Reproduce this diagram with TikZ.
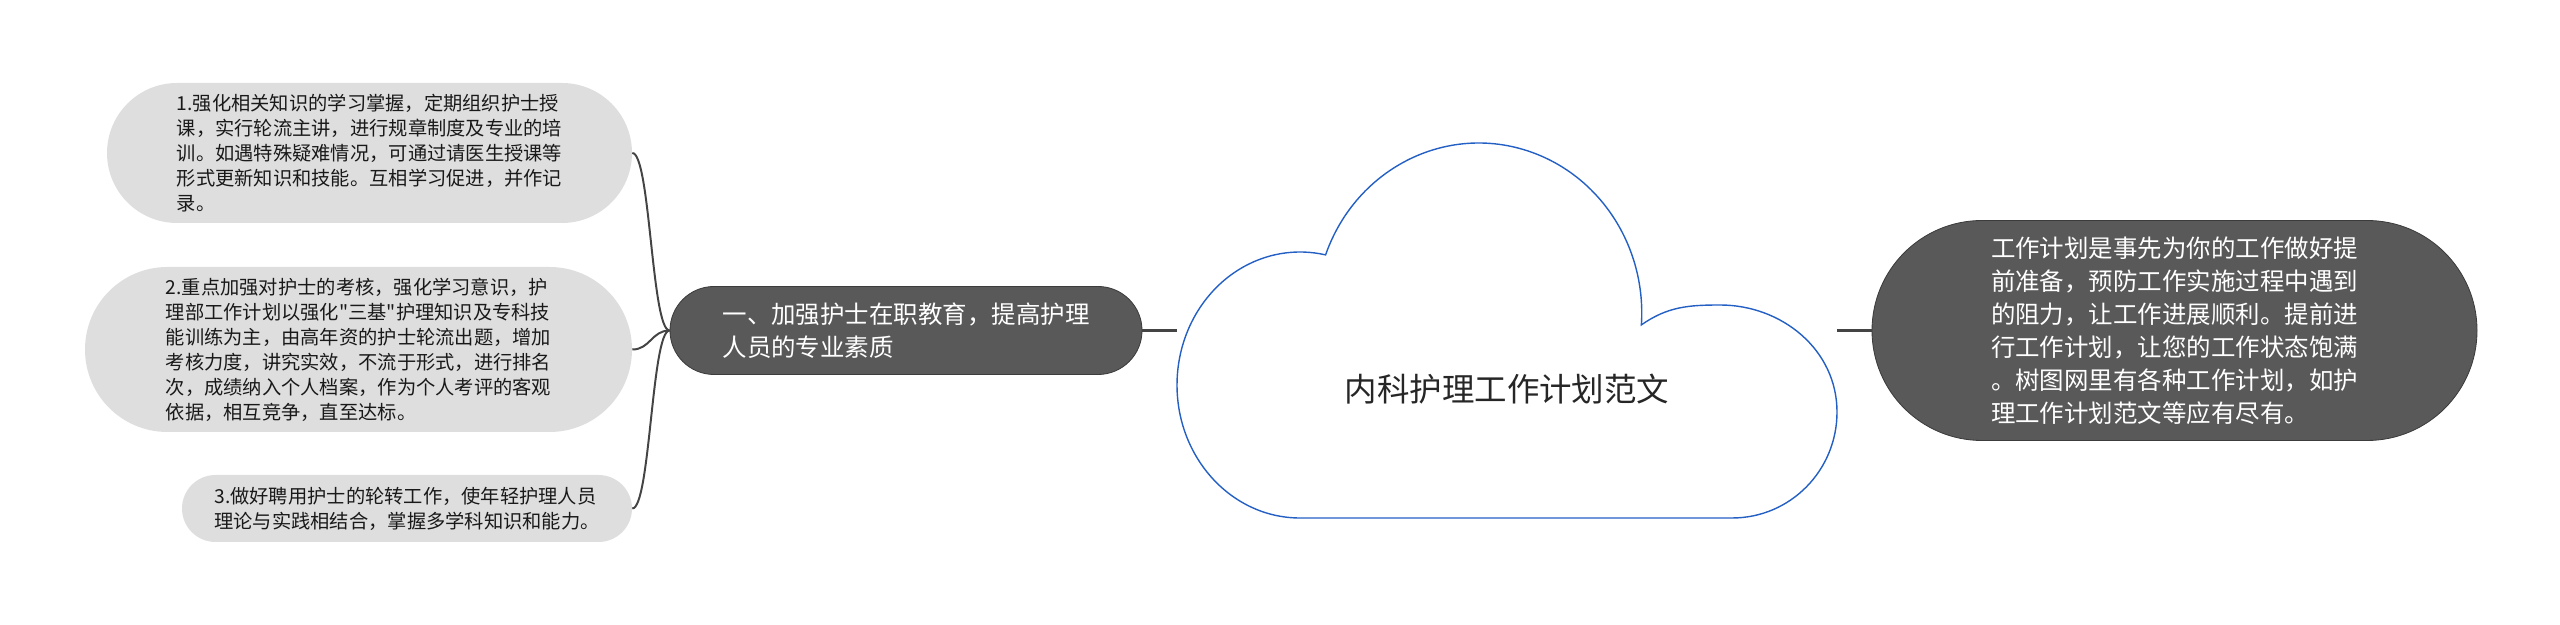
\documentclass[tikz,border=0pt]{standalone}
\usepackage{fontspec}
\newfontfamily\cjk{Noto Sans CJK SC}
\definecolor{leafgray}{HTML}{DEDEDE}
\definecolor{darkfill}{HTML}{595959}
\definecolor{darkline}{HTML}{3C3C3C}
\definecolor{linkgray}{HTML}{444444}
\definecolor{cloudblue}{HTML}{2460C4}

\begin{document}
\begin{tikzpicture}[
		leaf/.style  = {rectangle, fill=leafgray, inner sep=0pt, align=left,
			text=black!90, font=\cjk\fontsize{13.7}{17.8}\selectfont},
		sub/.style   = {rectangle, fill=darkfill, draw=darkline, line width=0.6pt,
			inner sep=0pt, align=left, text=white,
			font=\cjk\fontsize{17.4}{23.5}\selectfont},
		title/.style = {text=black!85, font=\cjk\fontsize{23.1}{28}\selectfont},
		cloudline/.style = {draw=cloudblue, line width=1pt},
		link/.style  = {draw=linkgray, line width=1.4pt},
		trunk/.style = {draw=linkgray, line width=2.6pt}
		]
		\useasboundingbox (0,0) rectangle (64,15.625);
		
		% centre
		\draw[cloudline] (32.5,2.675)
		arc[start angle=270, end angle=78, x radius=3.075cm, y radius=3.325cm]
		arc[start angle=160, end angle=-4, x radius=4.075cm, y radius=4.25cm]
		to[out=35,in=180] (43.0,8.0)
		to[out=0,in=90] (45.925,5.325)
		to[out=270,in=0] (43.3,2.675) -- cycle;
		\node[title] (root) at (37.675,5.9) {内科护理工作计划范文};
		\coordinate (cw) at (29.425,7.3625);
		\coordinate (ce) at (45.925,7.3625);
		
		% right
		\node[sub, minimum width=15.125cm, minimum height=5.5cm, rounded corners=2.75cm]
		(note) at (54.3625,7.3625) {工作计划是事先为你的工作做好提\\前准备，预防工作实施过程中遇到\\的阻力，让工作进展顺利。提前进\\行工作计划，让您的工作状态饱满\\。树图网里有各种工作计划，如护\\理工作计划范文等应有尽有。};
		
		% left
		\node[sub, minimum width=11.8cm, minimum height=2.2cm, rounded corners=1.1cm]
		(sub) at (22.65,7.3625) {一、加强护士在职教育，提高护理\\人员的专业素质};
		
		\node[leaf, minimum width=13.125cm, minimum height=3.5cm, rounded corners=1.75cm]
		(c1) at (9.2375,11.8) {1.强化相关知识的学习掌握，定期组织护士授\\课，实行轮流主讲，进行规章制度及专业的培\\训。如遇特殊疑难情况，可通过请医生授课等\\形式更新知识和技能。互相学习促进，并作记\\录。};
		\node[leaf, minimum width=13.675cm, minimum height=4.125cm, rounded corners=2.06cm]
		(c2) at (8.9625,6.8875) {2.重点加强对护士的考核，强化学习意识，护\\理部工作计划以强化"三基"护理知识及专科技\\能训练为主，由高年资的护士轮流出题，增加\\考核力度，讲究实效，不流于形式，进行排名\\次，成绩纳入个人档案，作为个人考评的客观\\依据，相互竞争，直至达标。};
		\node[leaf, minimum width=11.25cm, minimum height=1.675cm, rounded corners=0.8375cm]
		(c3) at (10.175,2.9125) {3.做好聘用护士的轮转工作，使年轻护理人员\\理论与实践相结合，掌握多学科知识和能力。};
		
		\draw[trunk] (sub.east) -- (cw);
		\draw[trunk] (ce) -- (note.west);
		\draw[link] (c1.east) .. controls +(0.45,0) and +(-0.45,0) .. (sub.west);
		\draw[link] (c2.east) .. controls +(0.45,0) and +(-0.45,0) .. (sub.west);
		\draw[link] (c3.east) .. controls +(0.45,0) and +(-0.45,0) .. (sub.west);
	\end{tikzpicture}
\end{document}
